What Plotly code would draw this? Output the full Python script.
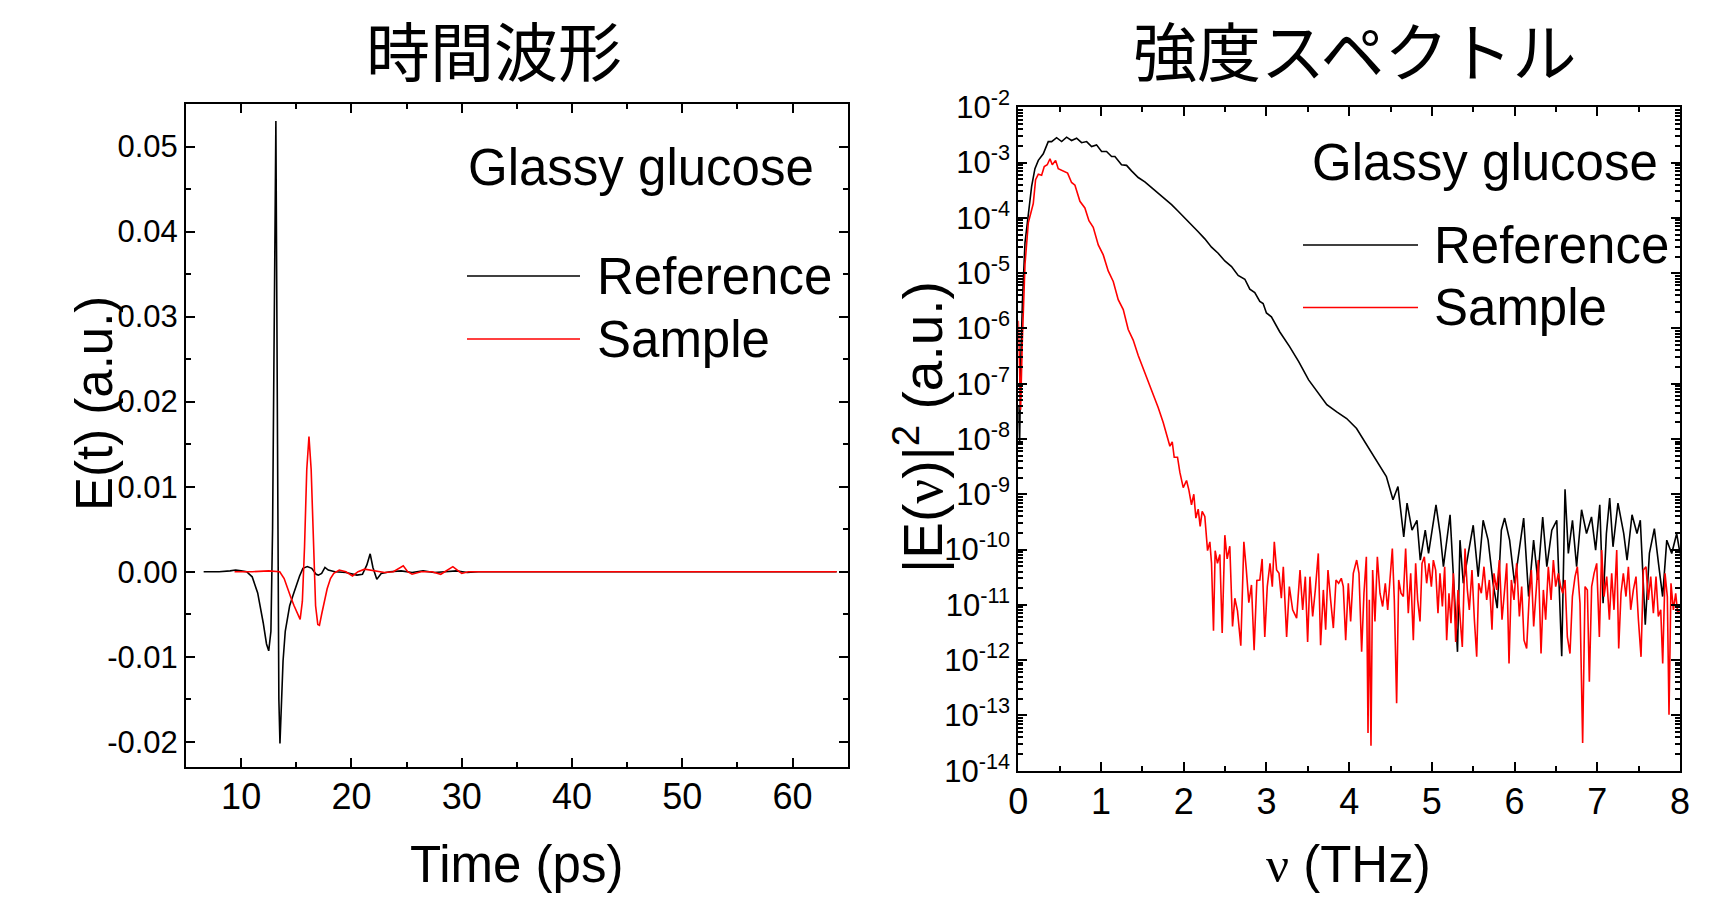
import plotly.graph_objects as go

W, H = 1717, 901

# ---------------- data: time-domain waveforms ----------------
time_ref_ps = [6.6, 8.0, 9.0, 9.5, 10.0, 10.5, 11.0, 11.5, 12.0, 12.3, 12.5, 12.7, 12.85, 13.0, 13.15,
               13.3, 13.42, 13.52, 13.65, 13.8, 14.0, 14.2, 14.4, 14.7, 15.0, 15.3, 15.6, 16.0, 16.4,
               16.8, 17.0, 17.3, 17.6, 17.9, 18.5, 19.5, 20.5, 21.0, 21.4, 21.7, 21.95, 22.3, 22.7,
               23.5, 24.5, 25.5, 26.5, 27.5, 28.5, 29.5, 30.5, 31.5, 35.0, 40.0, 45.0, 50.0, 55.0, 60.0, 64.0]
field_ref = [0.0, 0.0, 0.0001, 0.0002, 0.0001, 0.0, -0.0006, -0.0025, -0.0060, -0.0085, -0.0093, -0.0070,
             0.0050, 0.0350, 0.0530, 0.0150, -0.0150, -0.0202, -0.0160, -0.0105, -0.0070, -0.0052,
             -0.0040, -0.0028, -0.0016, -0.0005, 0.0004, 0.0006, 0.0004, -0.0003, -0.0004, -0.0002,
             0.0005, 0.0002, 0.0, -0.0001, -0.0004, -0.0003, 0.0008, 0.0021, 0.0005, -0.0009, -0.0002,
             0.0, 0.0001, -0.0001, 0.0001, -0.0001, 0.0, 0.0001, -0.0001, 0.0, 0.0, 0.0, 0.0, 0.0, 0.0, 0.0, 0.0]

time_smp_ps = [9.4, 11.0, 12.5, 13.5, 13.9, 14.2, 14.5, 14.8, 15.1, 15.35, 15.55, 15.75, 15.95, 16.15,
               16.35, 16.55, 16.75, 16.95, 17.1, 17.3, 17.55, 17.8, 18.1, 18.4, 18.9, 19.5, 20.1, 20.6,
               21.2, 22.0, 23.0, 23.8, 24.3, 24.7, 25.1, 25.5, 26.3, 27.3, 28.1, 28.7, 29.2, 29.6, 30.0,
               30.6, 31.5, 40.0, 50.0, 60.0, 64.0]
field_smp = [0.0, 0.0, 0.0001, 0.0, -0.0008, -0.0020, -0.0030, -0.0040, -0.0050, -0.0056, -0.0035, 0.0030,
             0.0120, 0.0159, 0.0120, 0.0030, -0.0040, -0.0062, -0.0063, -0.0050, -0.0035, -0.0020,
             -0.0008, -0.0002, 0.0002, 0.0, -0.0005, 0.0, 0.0003, 0.0001, -0.0001, 0.0, 0.0004, 0.0007,
             0.0, -0.0003, 0.0, 0.0, -0.0003, 0.0002, 0.0006, 0.0002, -0.0002, 0.0, 0.0, 0.0, 0.0, 0.0, 0.0]

# ---------------- data: power spectra (log10 of |E|^2) ----------------
freq_ref_thz = [0.000, 0.016, 0.030, 0.050, 0.081, 0.121, 0.161, 0.201, 0.242, 0.302, 0.362, 0.403, 0.463,
                0.524, 0.584, 0.644, 0.705, 0.765, 0.826, 0.886, 0.946, 1.007, 1.067, 1.128, 1.168, 1.248,
                1.309, 1.369, 1.450, 1.530, 1.611, 1.691, 1.772, 1.853, 1.933, 2.014, 2.094, 2.175, 2.255,
                2.336, 2.416, 2.497, 2.578, 2.658, 2.739, 2.799, 2.859, 2.920, 2.960, 3.00, 3.06, 3.16,
                3.28, 3.39, 3.51, 3.63, 3.73, 3.85, 3.97, 4.09, 4.19, 4.29, 4.37, 4.45, 4.53, 4.59, 4.66,
                4.70, 4.76, 4.82, 4.86, 4.92, 4.96, 5.00, 5.05, 5.10, 5.14, 5.22, 5.26, 5.31, 5.34, 5.38,
                5.44, 5.50, 5.56, 5.62, 5.68, 5.74, 5.79, 5.84, 5.88, 5.94, 6.00, 6.06, 6.11, 6.17, 6.23,
                6.28, 6.34, 6.39, 6.45, 6.51, 6.57, 6.61, 6.65, 6.70, 6.75, 6.81, 6.87, 6.93, 6.98, 7.03,
                7.07, 7.11, 7.15, 7.19, 7.25, 7.32, 7.36, 7.42, 7.48, 7.52, 7.58, 7.63, 7.69, 7.74, 7.79,
                7.84, 7.90, 7.96, 8.00]
log10_power_ref = [-7.40, -8.10, -6.60, -5.50, -4.45, -3.94, -3.43, -3.11, -2.96, -2.84, -2.62, -2.62, -2.55,
                   -2.62, -2.54, -2.60, -2.56, -2.64, -2.62, -2.71, -2.68, -2.80, -2.80, -2.89, -2.89, -3.04,
                   -3.05, -3.15, -3.27, -3.35, -3.45, -3.55, -3.65, -3.76, -3.88, -4.00, -4.13, -4.25, -4.38,
                   -4.53, -4.64, -4.78, -4.88, -5.04, -5.11, -5.29, -5.35, -5.51, -5.55, -5.72, -5.79, -6.06,
                   -6.33, -6.60, -6.93, -7.17, -7.38, -7.51, -7.63, -7.81, -8.05, -8.29, -8.50, -8.68, -9.10,
                   -8.86, -9.77, -9.16, -9.65, -9.47, -10.19, -9.65, -10.07, -9.71, -9.19, -9.71, -10.31,
                   -9.37, -10.49, -11.85, -9.83, -10.61, -10.07, -9.56, -10.49, -9.47, -9.83, -10.61, -11.06,
                   -9.65, -9.43, -9.83, -10.61, -9.95, -9.43, -10.85, -9.83, -10.55, -9.41, -10.31, -9.65,
                   -9.47, -11.93, -8.91, -10.07, -9.47, -10.31, -9.28, -9.71, -9.41, -10.01, -9.19, -10.97,
                   -9.71, -9.07, -9.95, -9.16, -9.71, -10.19, -9.37, -9.71, -9.47, -11.36, -10.07, -9.62,
                   -10.25, -10.85, -9.83, -10.07, -9.71, -10.07]

freq_smp_thz = [0.000, 0.028, 0.048, 0.081, 0.121, 0.153, 0.181, 0.209, 0.242, 0.282, 0.314, 0.350, 0.383,
                0.411, 0.451, 0.483, 0.544, 0.596, 0.644, 0.685, 0.745, 0.805, 0.854, 0.906, 0.967, 1.027,
                1.087, 1.148, 1.208, 1.269, 1.329, 1.389, 1.450, 1.510, 1.571, 1.631, 1.691, 1.752, 1.804,
                1.833, 1.861, 1.885, 1.925, 1.953, 1.994, 2.034, 2.062, 2.094, 2.122, 2.147, 2.175, 2.199,
                2.223, 2.255, 2.288, 2.316, 2.336, 2.360, 2.380, 2.408, 2.437, 2.465, 2.497, 2.525, 2.557,
                2.590, 2.618, 2.650, 2.690, 2.727, 2.755, 2.787, 2.819, 2.851, 2.884, 2.920, 2.948, 2.980,
                3.010, 3.043, 3.071, 3.095, 3.123, 3.152, 3.180, 3.204, 3.244, 3.277, 3.317, 3.365, 3.406,
                3.438, 3.470, 3.498, 3.526, 3.559, 3.591, 3.627, 3.655, 3.688, 3.716, 3.744, 3.776, 3.809,
                3.841, 3.873, 3.905, 3.929, 3.958, 3.990, 4.018, 4.050, 4.091, 4.119, 4.151, 4.179, 4.208,
                4.228, 4.244, 4.264, 4.284, 4.312, 4.341, 4.373, 4.405, 4.437, 4.466, 4.494, 4.522, 4.546,
                4.574, 4.599, 4.627, 4.655, 4.683, 4.715, 4.744, 4.776, 4.804, 4.828, 4.857, 4.881, 4.909,
                4.937, 4.965, 4.994, 5.018, 5.046, 5.074, 5.098, 5.127, 5.155, 5.179, 5.207, 5.231, 5.260,
                5.288, 5.316, 5.340, 5.368, 5.401, 5.429, 5.453, 5.485, 5.514, 5.542, 5.566, 5.598, 5.630,
                5.663, 5.695, 5.727, 5.751, 5.784, 5.816, 5.848, 5.876, 5.905, 5.933, 5.961, 5.993, 6.025,
                6.058, 6.086, 6.114, 6.146, 6.175, 6.203, 6.231, 6.259, 6.287, 6.320, 6.348, 6.376, 6.408,
                6.441, 6.469, 6.497, 6.529, 6.557, 6.582, 6.610, 6.638, 6.670, 6.699, 6.731, 6.759, 6.791,
                6.823, 6.852, 6.880, 6.904, 6.932, 6.961, 6.993, 7.025, 7.053, 7.081, 7.114, 7.146, 7.174,
                7.202, 7.235, 7.259, 7.287, 7.315, 7.347, 7.376, 7.404, 7.436, 7.468, 7.497, 7.529, 7.557,
                7.589, 7.617, 7.646, 7.678, 7.710, 7.738, 7.767, 7.791, 7.819, 7.847, 7.867, 7.891, 7.920,
                7.948, 7.972, 8.000]
log10_power_smp = [-5.86, -7.47, -6.25, -4.84, -4.09, -3.90, -3.74, -3.31, -3.21, -3.23, -3.07, -3.04, -2.93,
                   -3.04, -2.96, -3.11, -3.15, -3.19, -3.36, -3.41, -3.70, -3.82, -4.05, -4.17, -4.49, -4.67,
                   -4.96, -5.15, -5.48, -5.66, -6.02, -6.21, -6.49, -6.72, -6.96, -7.19, -7.43, -7.70, -7.96,
                   -8.13, -8.05, -8.33, -8.33, -8.60, -8.88, -8.75, -8.92, -9.19, -9.00, -9.43, -9.27, -9.58,
                   -9.31, -9.40, -10.02, -9.86, -10.25, -11.47, -10.02, -10.25, -10.09, -11.51, -9.74, -10.17,
                   -9.94, -11.39, -10.88, -11.11, -11.74, -9.86, -10.33, -10.96, -10.64, -11.82, -10.56,
                   -10.55, -10.17, -11.58,
                   -10.67, -10.25, -10.67, -9.86, -10.37, -10.43, -10.88, -10.31, -11.58, -10.67, -11.09,
                   -11.24, -10.37, -11.09, -10.49, -11.67, -10.49, -11.21, -10.73, -10.07, -11.73, -10.73,
                   -11.45, -10.37, -10.91, -11.42, -10.55, -10.61, -10.52, -10.67, -11.64, -10.61, -11.30,
                   -10.43, -10.19, -10.43, -11.85, -10.79, -10.13, -13.32, -10.91, -13.55, -10.37, -11.30,
                   -10.13, -10.79, -11.03, -10.61, -11.09, -10.43, -9.98, -10.91, -12.78, -10.55, -10.79,
                   -10.85, -9.98, -11.15, -10.43, -11.64, -10.25, -10.91, -11.30, -10.25, -10.13, -10.61,
                   -10.25, -10.67, -10.19, -10.37, -11.15, -10.43, -11.03, -10.31, -11.64, -10.79, -11.33,
                   -10.43, -11.67, -10.73, -11.15, -11.76, -9.98, -10.73, -11.09, -10.37, -11.27, -11.94,
                   -10.61, -10.79, -10.31, -10.91, -10.55, -11.45, -10.43, -10.73, -10.19, -11.27, -10.79,
                   -10.25, -12.06, -10.55, -10.91, -10.25, -11.21, -10.67, -11.64, -11.79, -10.91, -10.37,
                   -11.39, -10.85, -10.19, -11.88, -10.73, -11.27, -10.31, -10.91, -10.19, -10.67, -10.43,
                   -10.67, -10.79, -10.55, -11.58, -11.88, -10.85, -10.49, -10.31, -10.97, -13.50, -10.67,
                   -10.73, -12.39, -10.67, -10.43, -10.25, -11.58, -10.01, -10.85, -10.49, -11.27, -10.43,
                   -11.09, -10.01, -11.79, -10.79, -10.43, -10.85, -10.31, -11.09, -10.73, -10.49, -11.27,
                   -11.94, -10.37, -10.31, -10.91, -10.49, -11.15, -10.49, -11.21, -11.09, -12.06, -10.43,
                   -10.85, -12.99, -10.61, -11.09, -10.79, -11.15, -11.09]

power_ref = [10 ** v for v in log10_power_ref]
power_smp = [10 ** v for v in log10_power_smp]

# ---------------- tick labels ----------------
time_ticks = [10, 20, 30, 40, 50, 60]
field_ticks = [0.05, 0.04, 0.03, 0.02, 0.01, 0.0, -0.01, -0.02]
field_tick_labels = ["0.05", "0.04", "0.03", "0.02", "0.01", "0.00", "-0.01", "-0.02"]
freq_ticks = [0, 1, 2, 3, 4, 5, 6, 7, 8]
power_exponents = [-14, -13, -12, -11, -10, -9, -8, -7, -6, -5, -4, -3, -2]
power_ticks = [10.0 ** e for e in power_exponents]
power_tick_labels = ["10<sup>%d</sup>" % e for e in power_exponents]

FONT = "Liberation Sans, Arial, sans-serif"
CJK = "Noto Sans CJK JP, sans-serif"


def px(x):
    return x / W


def py(y):
    return 1 - y / H


fig = go.Figure()
fig.add_trace(go.Scatter(x=time_ref_ps, y=field_ref, mode="lines", name="Reference",
                         line=dict(color="black", width=1.6), xaxis="x", yaxis="y"))
fig.add_trace(go.Scatter(x=time_smp_ps, y=field_smp, mode="lines", name="Sample",
                         line=dict(color="#ff0000", width=1.6), xaxis="x", yaxis="y"))
fig.add_trace(go.Scatter(x=freq_ref_thz, y=power_ref, mode="lines", name="Reference",
                         line=dict(color="black", width=1.6), xaxis="x2", yaxis="y2"))
fig.add_trace(go.Scatter(x=freq_smp_thz, y=power_smp, mode="lines", name="Sample",
                         line=dict(color="#ff0000", width=1.6), xaxis="x2", yaxis="y2"))

axis_common = dict(showline=True, linecolor="black", linewidth=2, mirror="ticks",
                   ticks="inside", ticklen=9, tickwidth=2, tickcolor="black", automargin=False,
                   showgrid=False, zeroline=False, color="black")

fig.update_layout(
    width=W, height=H, margin=dict(l=0, r=0, t=0, b=0, pad=0, autoexpand=False),
    paper_bgcolor="white", plot_bgcolor="white", showlegend=False,
    font=dict(family=FONT, color="black"),
    xaxis=dict(domain=[px(186), px(847.7)], anchor="y", range=[5, 65],
               tickmode="array", tickvals=time_ticks, tickfont=dict(size=36), ticklabelstandoff=-4,
               minor=dict(ticks="inside", ticklen=5, tickwidth=2, tickcolor="black", dtick=5),
               **axis_common),
    yaxis=dict(domain=[py(767.3), py(104)], anchor="x", range=[-0.023, 0.055],
               tickmode="array", tickvals=field_ticks, ticktext=field_tick_labels,
               tickfont=dict(size=31),
               minor=dict(ticks="inside", ticklen=5, tickwidth=2, tickcolor="black", dtick=0.005),
               **axis_common),
    xaxis2=dict(domain=[px(1018.3), px(1680)], anchor="y2", range=[0, 8],
                tickmode="array", tickvals=freq_ticks, tickfont=dict(size=36), ticklabelstandoff=-2,
                minor=dict(ticks="inside", ticklen=5, tickwidth=2, tickcolor="black", dtick=0.5),
                **axis_common),
    yaxis2=dict(domain=[py(770.7), py(107.3)], anchor="x2", type="log", range=[-14, -2],
                tickmode="array", tickvals=power_ticks, ticktext=power_tick_labels,
                tickfont=dict(size=31),
                minor=dict(ticks="inside", ticklen=5, tickwidth=1.5, tickcolor="black", dtick="D1"),
                **axis_common),
)

annotations = [
    dict(text="時間波形", x=px(494), y=py(48), font=dict(family=CJK, size=64)),
    dict(text="強度スペクトル", x=px(1355), y=py(48), font=dict(family=CJK, size=64)),
    dict(text="Time (ps)", x=px(516), y=py(864), font=dict(size=51)),
    dict(text="<span style=\"font-family:'Liberation Serif'\">ν</span> (THz)", x=px(1348), y=py(864),
         font=dict(size=51)),
    dict(text="E(t) (a.u.)", x=px(94), y=py(404), textangle=-90, font=dict(size=51)),
    dict(text="|E(<span style=\"font-family:'Liberation Serif'\">ν</span>)|<sup>2</sup> (a.u.)",
         x=px(919), y=py(427), textangle=-90, font=dict(size=55)),
    dict(text="Glassy glucose", x=px(816), y=py(167), xanchor="right", font=dict(size=51)),
    dict(text="Glassy glucose", x=px(1660), y=py(163), xanchor="right", font=dict(size=51)),
    dict(text="Reference", x=px(595), y=py(276), xanchor="left", font=dict(size=51)),
    dict(text="Sample", x=px(595), y=py(339), xanchor="left", font=dict(size=51)),
    dict(text="Reference", x=px(1432), y=py(245), xanchor="left", font=dict(size=51)),
    dict(text="Sample", x=px(1432), y=py(307.5), xanchor="left", font=dict(size=51)),
]
for a in annotations:
    a.setdefault("xanchor", "center")
    a.update(xref="paper", yref="paper", yanchor="middle", showarrow=False)
    a["font"] = dict(family=a["font"].get("family", FONT), size=a["font"]["size"], color="black")
fig.update_layout(annotations=annotations)

legend_lines = [
    (467, 580, 276, "black"), (467, 580, 339, "#ff0000"),
    (1303, 1418, 245, "black"), (1303, 1418, 307.5, "#ff0000"),
]
for x0, x1, yy, c in legend_lines:
    fig.add_shape(type="line", xref="paper", yref="paper", x0=px(x0), x1=px(x1), y0=py(yy), y1=py(yy),
                  line=dict(color=c, width=1.6))

fig.write_html("out.html")
